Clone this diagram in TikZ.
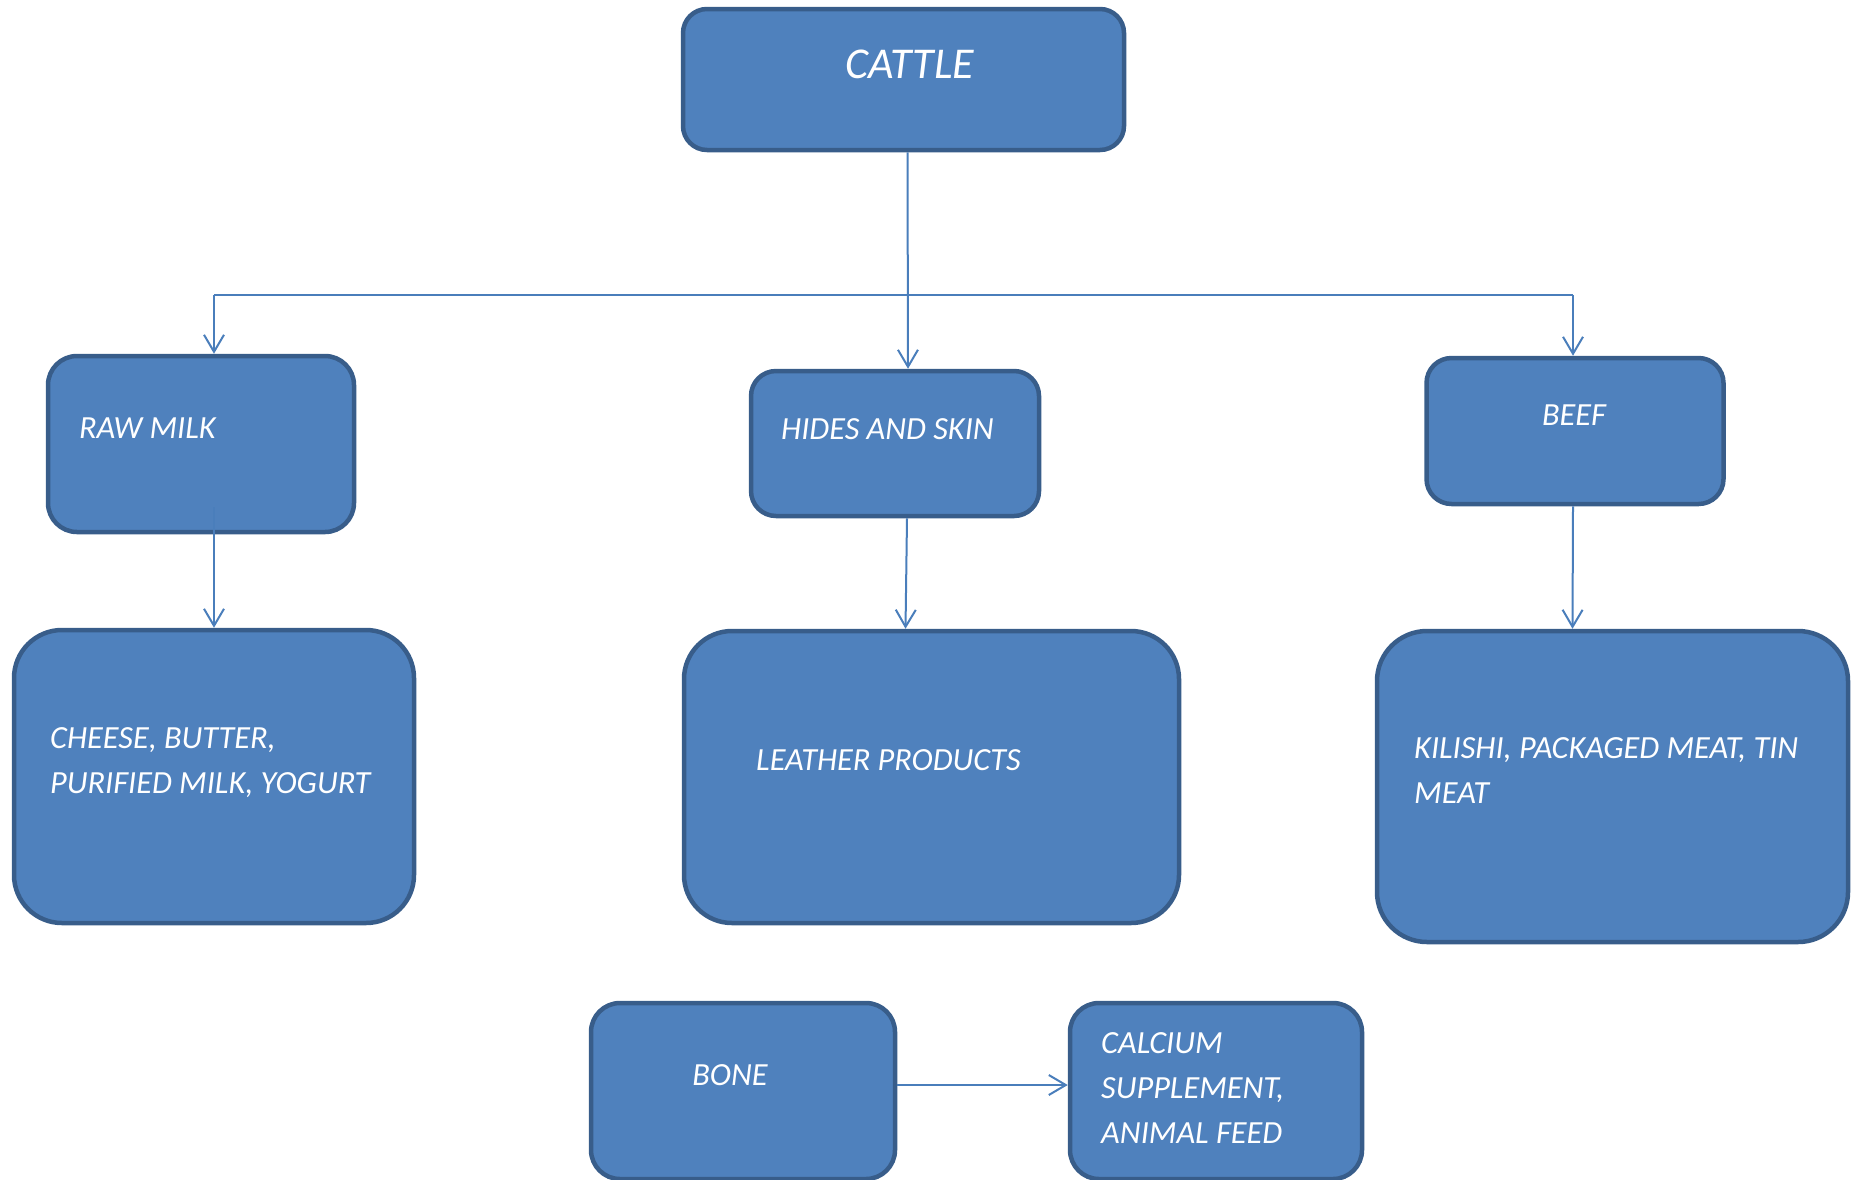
\documentclass[tikz,border=0pt]{standalone}
\usepackage{fontspec}
\setmainfont{Carlito}
\usetikzlibrary{arrows.meta}
\definecolor{boxblue}{HTML}{4F81BD}
\definecolor{edgeblue}{HTML}{385D8A}
\definecolor{lineblue}{HTML}{4A7EBB}

\begin{document}
\begin{tikzpicture}[x=1pt,y=-1pt,
    box/.style={draw=edgeblue,fill=boxblue,line width=4.5pt,rounded corners=#1,inner sep=0pt},
    box/.default=28pt,
    lbl/.style={text=white,font=\fontsize{32.3}{45}\selectfont\itshape,inner sep=0pt,align=left},
    arr/.style={draw=lineblue,line width=2pt,-{Straight Barb[length=17pt,width=20pt,line width=2pt]}}]

          \useasboundingbox (0,0) rectangle (1854,1179);

          % boxes
          \node[box=24pt,minimum width=441pt,minimum height=141pt] (cattle) at (903.5,79.5) {};
          \node[box=29pt,minimum width=306pt,minimum height=176pt] (rawmilk) at (201,444) {};
          \node[box=25pt,minimum width=288pt,minimum height=145pt] (hides) at (895,443.5) {};
          \node[box=25pt,minimum width=297pt,minimum height=146pt] (beef) at (1575,431) {};
          \node[box=48pt,minimum width=400pt,minimum height=293pt] (cheese) at (214,776.5) {};
          \node[box=48pt,minimum width=495pt,minimum height=292pt] (leather) at (931.5,777) {};
          \node[box=50pt,minimum width=471pt,minimum height=311pt] (kilishi) at (1612.5,786.5) {};
          \node[box=29pt,minimum width=304pt,minimum height=176pt] (bone) at (743,1091) {};
          \node[box=29pt,minimum width=292pt,minimum height=176pt] (calcium) at (1216,1091) {};

          % texts
          \node[lbl,font=\fontsize{44}{53}\selectfont\itshape,anchor=base] (cattletxt) at (910,78) {CATTLE};
          \node[lbl,anchor=base west] (rawmilktxt) at (79,438) {RAW MILK};
          \node[lbl,anchor=base west] (hidestxt) at (781,439) {HIDES AND SKIN};
          \node[lbl,anchor=base] (beeftxt) at (1574,425) {BEEF};
          \node[lbl,anchor=base west] (cheesetxt) at (50,793) {CHEESE, BUTTER,\\PURIFIED MILK, YOGURT};
          \node[lbl,anchor=base west] (leathertxt) at (756,770) {LEATHER PRODUCTS};
          \node[lbl,anchor=base west] (kilishitxt) at (1414,803) {KILISHI, PACKAGED MEAT, TIN\\MEAT};
          \node[lbl,anchor=base] (bonetxt) at (730,1085) {BONE};
          \node[lbl,anchor=base west] (calciumtxt) at (1101,1143) {CALCIUM\\SUPPLEMENT,\\ANIMAL FEED};

          % connectors
          \coordinate (busL) at (214,295);
          \coordinate (busR) at (1573,295);
          \draw[lineblue,line width=2pt] (busL) -- (busR);
          \draw[arr] (busL) -- (busL |- rawmilk.north);
          \draw[arr] (busR) -- (busR |- beef.north);
          \draw[arr] ([xshift=4pt]cattle.south) -- ([xshift=13pt]hides.north);
          \draw[arr] ([xshift=13pt,yshift=27pt]rawmilk.south) -- ([xshift=0pt]cheese.north);
          \draw[arr] ([xshift=12pt]hides.south) -- ([xshift=-26pt]leather.north);
          \draw[arr] ([xshift=-2pt]beef.south) -- ([xshift=-40pt]kilishi.north);
          \draw[arr] ([yshift=6pt]bone.east) -- ([yshift=6pt]calcium.west);
\end{tikzpicture}
\end{document}
